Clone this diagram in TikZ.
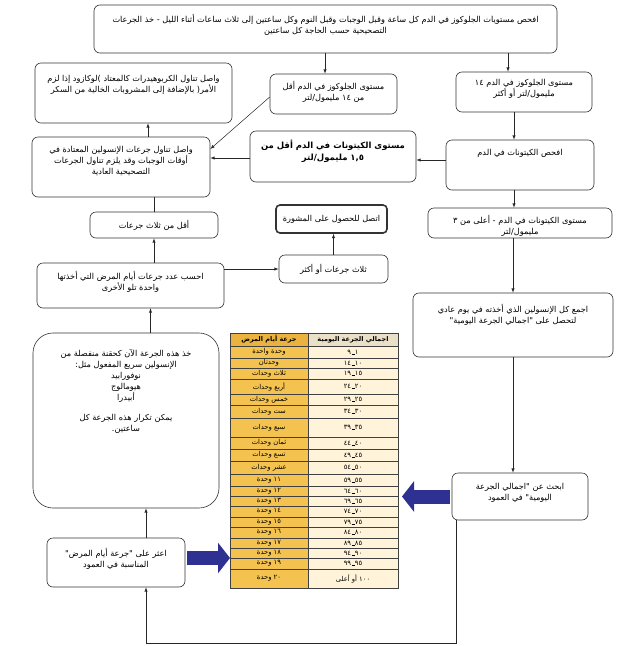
\documentclass[tikz,border=0pt]{standalone}
\usepackage{fontspec}
\usetikzlibrary{arrows.meta}
\TeXXeTstate=1
\newfontfamily\arabicfont[Script=Arabic]{DejaVu Sans}
\newcommand\qt{\hbox{"}}
\newcommand\opn{\hbox{)}}
\newcommand\cls{\hbox{(}}
\newcommand\cln{\hbox{:}}
\newcommand\stp{\hbox{.}}
\newcommand\rng[2]{\hbox{#1}\hbox{\kern0.4pt\rule{3pt}{0.4pt}\kern0.4pt}\hbox{#2}}
\definecolor{gold}{HTML}{F4C24F}
\definecolor{darkgold}{HTML}{EBB33E}
\definecolor{cream}{HTML}{FFF3D9}
\definecolor{tan}{HTML}{EAE0C8}
\definecolor{navy}{HTML}{2E3192}

\begin{document}
\begin{tikzpicture}[x=1pt, y=-1pt, >=latex,
    stage/.style={draw=black!80, rounded corners=6pt, line width=0.6pt, inner sep=0pt},
    say/.style={anchor=north, yshift=-8pt, align=center, inner sep=1pt,
        font=\arabicfont\fontsize{8.2}{11}\selectfont},
    flow/.style={->, draw=black!85, line width=0.5pt},
    fat/.style={draw=navy, line width=14pt, -{Triangle[length=12pt,width=30pt]}},
    cell/.style={font=\arabicfont\fontsize{6.8}{8}\selectfont, inner sep=0pt},
    grid/.style={draw=black!75, line width=0.5pt}
   ]
\path[fill=white, use as bounding box] (0,0) rectangle (624,646);

% right hand column
\node[stage, minimum width=463, minimum height=48,
      label={[say]north:\beginR افحص مستويات الجلوكوز في الدم كل ساعة وقبل الوجبات وقبل النوم وكل ساعتين إلى ثلاث ساعات أثناء الليل - خذ الجرعات\endR\\\beginR التصحيحية حسب الحاجة كل ساعتين\endR}] (check) at (325.5,29) {};
\node[stage, minimum width=127, minimum height=40,
      label={[say, yshift=2pt]north:\beginR مستوى الجلوكوز في الدم أقل\endR\\\beginR من ١٤ مليمول/لتر\endR}] (lowg) at (333.5,94) {};
\node[stage, minimum width=136, minimum height=40,
      label={[say, yshift=2pt]north:\beginR مستوى الجلوكوز في الدم ١٤\endR\\\beginR مليمول/لتر أو أكثر\endR}] (highg) at (524,92) {};
\node[stage, minimum width=148, minimum height=50,
      label={[say]north:\beginR افحص الكيتونات في الدم\endR}] (ketone) at (520,165) {};
\node[stage, minimum width=166, minimum height=51,
      label={[say, font=\arabicfont\bfseries\fontsize{8.5}{12}\selectfont]north:\beginR مستوى الكيتونات في الدم أقل من\endR\\\beginR ١,٥ مليمول/لتر\endR}] (lowk) at (333,156.5) {};
\node[stage, minimum width=184, minimum height=30,
      label={[say, yshift=2pt]north:\beginR مستوى الكيتونات في الدم - أعلى من ٣\endR\\\beginR مليمول/لتر\endR}] (highk) at (520,223) {};
\node[stage, minimum width=111, minimum height=28, line width=1.6pt, rounded corners=4pt,
      font=\arabicfont\fontsize{8.2}{11}\selectfont] (call) at (331.5,219) {\beginR اتصل للحصول على المشورة\endR};
\node[stage, minimum width=200, minimum height=64,
      label={[say, yshift=-2pt]north:\beginR اجمع كل الإنسولين الذي أخذته في يوم عادي\endR\\\beginR لتحصل على \qt{}اجمالي الجرعة اليومية\qt\endR}] (total) at (513,325) {};
\node[stage, minimum width=136, minimum height=47,
      label={[say, yshift=-1pt]north:\beginR ابحث عن \qt{}اجمالي الجرعة\endR\\\beginR اليومية\qt{} في العمود\endR}] (lookup) at (520,496.5) {};

% left hand column
\node[stage, minimum width=197, minimum height=60,
      label={[say, yshift=-3pt]north:\beginR واصل تناول الكربوهيدرات كالمعتاد \opn{}لوكازود إذا لزم\endR\\\beginR الأمر\cls{} بالإضافة إلى المشروبات الخالية من السكر\endR}] (carbs) at (133.5,93) {};
\node[stage, minimum width=178, minimum height=60,
      label={[say]north:\beginR واصل تناول جرعات الإنسولين المعتادة في\endR\\\beginR أوقات الوجبات وقد يلزم تناول الجرعات\endR\\\beginR التصحيحية العادية\endR}] (insulin) at (121,167) {};
\node[stage, minimum width=128, minimum height=26,
      font=\arabicfont\fontsize{8.2}{11}\selectfont] (few) at (154,225) {\beginR أقل من ثلاث جرعات\endR};
\node[stage, minimum width=187, minimum height=45,
      label={[say, yshift=1pt]north:\beginR احسب عدد جرعات أيام المرض التي أخذتها\endR\\\beginR واحدة تلو الأخرى\endR}] (count) at (130.5,285.5) {};
\node[stage, minimum width=109, minimum height=28,
      font=\arabicfont\fontsize{8.2}{11}\selectfont] (many) at (333.5,269) {\beginR ثلاث جرعات أو أكثر\endR};
\node[stage, minimum width=186, minimum height=175, rounded corners=20pt,
      label={[say, yshift=-7pt]north:\beginR خذ هذه الجرعة الآن كحقنة منفصلة من\endR\\\beginR الإنسولين سريع المفعول مثل\cln\endR\\\beginR نوفورابيد\endR\\\beginR هيومالوج\endR\\\beginR أبيدرا\endR\\[9pt]\beginR يمكن تكرار هذه الجرعة كل\endR\\\beginR ساعتين\stp\endR}] (dose) at (126,420.5) {};
\node[stage, minimum width=138, minimum height=49,
      label={[say, yshift=-1pt]north:\beginR اعثر على \qt{}جرعة أيام المرض\qt\endR\\\beginR المناسبة في العمود\endR}] (find) at (116,562.5) {};

% dose table
\node[minimum width=168, minimum height=255, inner sep=0pt, outer sep=0pt] (tbl) at (314,460.5) {};
\fill[darkgold] (230,333) rectangle (308,346);
\fill[tan] (308,333) rectangle (398,346);
\draw[grid] (230,333) rectangle (398,346) (308,333) -- (308,346);
\node[cell, font=\arabicfont\bfseries\fontsize{6.5}{7}\selectfont] at (269,339.5) {\beginR جرعة أيام المرض\endR};
\node[cell, font=\arabicfont\bfseries\fontsize{6.5}{7}\selectfont] at (353,339.5) {\beginR اجمالي الجرعة اليومية\endR};
\foreach \ya/\yb/\units/\amount in {
    346/358/وحدة واحدة/\rng{١}{٩},
    358/368/وحدتان/\rng{١٠}{١٤},
    368/379/ثلاث وحدات/\rng{١٥}{١٩},
    379/394/أربع وحدات/\rng{٢٠}{٢٤},
    394/405/خمس وحدات/\rng{٢٥}{٢٩},
    405/418/ست وحدات/\rng{٣٠}{٣٤},
    418/437/سبع وحدات/\rng{٣٥}{٣٩},
    437/449/ثمان وحدات/\rng{٤٠}{٤٤},
    449/461/تسع وحدات/\rng{٤٥}{٤٩},
    461/474/عشر وحدات/\rng{٥٠}{٥٤},
    474/486/١١ وحدة/\rng{٥٥}{٥٩},
    486/496/١٢ وحدة/\rng{٦٠}{٦٤},
    496/506/١٣ وحدة/\rng{٦٥}{٦٩},
    506/517/١٤ وحدة/\rng{٧٠}{٧٤},
    517/527/١٥ وحدة/\rng{٧٥}{٧٩},
    527/538/١٦ وحدة/\rng{٨٠}{٨٤},
    538/548/١٧ وحدة/\rng{٨٥}{٨٩},
    548/558/١٨ وحدة/\rng{٩٠}{٩٤},
    558/569/١٩ وحدة/\rng{٩٥}{٩٩},
    569/588/٢٠ وحدة/١٠٠ أو أعلى}
{
    \fill[gold] (230,\ya) rectangle (308,\yb);
    \fill[cream] (308,\ya) rectangle (398,\yb);
    \draw[grid] (230,\ya) rectangle (398,\yb) (308,\ya) -- (308,\yb);
    \path (269,\ya) -- (269,\yb) node[cell, midway] {\beginR\units\endR};
    \path (353,\ya) -- (353,\yb) node[cell, midway] {\beginR\amount\endR};
}

% connectors
\draw[flow] ([xshift=-8.5pt]lowg.north |- check.south) -- ([xshift=-8.5pt]lowg.north);
\draw[flow] ([xshift=-16pt]highg.north |- check.south) -- ([xshift=-16pt]highg.north);
\draw[flow] ([xshift=-10pt]highg.south) -- ([xshift=-10pt]highg.south |- ketone.north);
\draw[flow] ([yshift=5pt]ketone.west) -- ([yshift=5pt]ketone.west -| lowk.east);
\draw[flow] ([xshift=-6pt]ketone.south) -- ([xshift=-6pt]ketone.south |- highk.north);
\draw[flow] ([yshift=-1.5pt]lowk.west) -- ([yshift=-1.5pt]lowk.west -| insulin.east);
\draw[flow] ([yshift=-3pt]lowg.west) -- ([yshift=18pt]insulin.east);
\draw[flow] ([xshift=27pt]insulin.north) -- ([xshift=27pt]insulin.north |- carbs.south);
\draw[flow, -] (few.north) -- (few.north |- insulin.south);
\draw[flow] (few.south |- count.north) -- (few.south);
\draw[flow] (count.east |- many.west) -- (many.west);
\draw[flow] (many.north) -- (many.north |- call.south);
\draw[flow] (total.north |- highk.south) -- (total.north);
\draw[flow] (total.south) -- (total.south |- lookup.north);
\draw[flow] ([xshift=5pt]lookup.south west) -- ++(0,123) -| ([xshift=30pt]find.south);
\draw[flow] ([xshift=30pt]find.north) -- ([xshift=30pt]find.north |- dose.south);
\draw[flow] ([xshift=20pt]count.south |- dose.north) -- ([xshift=20pt]count.south);

% big arrows into the table
\draw[fat] ([xshift=2pt,yshift=4.5pt]find.east) -- ([yshift=4.5pt]find.east -| tbl.west);
\draw[fat] ([xshift=-2pt]lookup.west) -- ([xshift=4pt]lookup.west -| tbl.east);

\end{tikzpicture}
\end{document}
